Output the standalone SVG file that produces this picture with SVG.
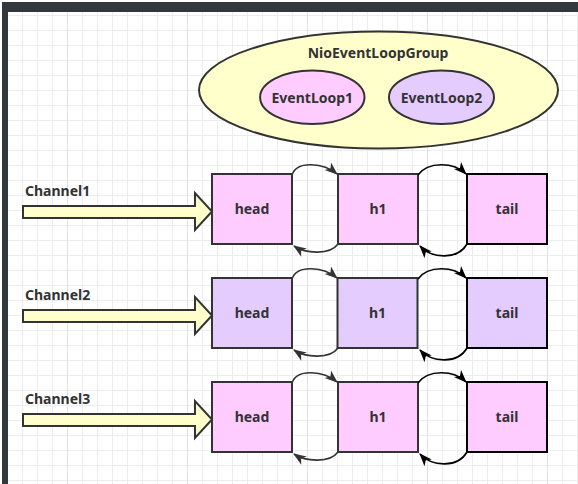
<svg xmlns="http://www.w3.org/2000/svg" width="578" height="484" viewBox="0 0 578 484">
<defs>
<pattern id="grid" patternUnits="userSpaceOnUse" x="7" y="0" width="15" height="15">
<rect x="0" y="0" width="1" height="15" fill="#ededed"/>
<rect x="0" y="0" width="15" height="1" fill="#ededed"/>
</pattern>
<marker id="ah1" markerUnits="userSpaceOnUse" viewBox="0 0 13 10" markerWidth="13" markerHeight="10" refX="12" refY="5" orient="auto" overflow="visible">
<path d="M0,0 L13,5 L0,10 L3.5,5 Z" fill="#333333"/>
</marker>
<marker id="ah2" markerUnits="userSpaceOnUse" viewBox="0 0 13 10" markerWidth="13" markerHeight="10" refX="12" refY="5" orient="auto" overflow="visible">
<path d="M0,0 L13,5 L0,10 L3.5,5 Z" fill="#000000"/>
</marker>
</defs>
<style>
text{font-family:"Noto Sans","Liberation Sans",sans-serif;font-weight:bold;font-size:14px;fill:#333333}
.c{text-anchor:middle}
.box{stroke:#333333;stroke-width:2}
.tail{stroke:#000000;stroke-width:2}
.pink{fill:#ffccff}
.lav{fill:#e5ccff}
.yel{fill:#ffffcc;stroke:#333333;stroke-width:2}
.arcA{fill:none;stroke:#333333;stroke-width:1.6;marker-end:url(#ah1)}
.arcB{fill:none;stroke:#000000;stroke-width:1.6;marker-end:url(#ah2)}
.major{stroke:#e2e2e2;stroke-width:1}
</style>
<rect x="0" y="0" width="578" height="484" fill="#ffffff"/>
<rect x="8" y="12" width="570" height="472" fill="url(#grid)"/>
<g class="major">
<line x1="67.5" y1="12" x2="67.5" y2="484"/>
<line x1="187.5" y1="12" x2="187.5" y2="484"/>
<line x1="307.5" y1="12" x2="307.5" y2="484"/>
<line x1="427.5" y1="12" x2="427.5" y2="484"/>
<line x1="547.5" y1="12" x2="547.5" y2="484"/>
</g>
<rect x="2" y="2" width="576" height="10" fill="#33383c"/>
<rect x="2" y="2" width="6" height="482" fill="#33383c"/>

<g id="group">
<ellipse cx="378.5" cy="90" rx="179.5" ry="58.5" class="yel"/>
<text x="378" y="57.5" class="c">NioEventLoopGroup</text>
</g>
<g id="eventloop1">
<ellipse cx="312.3" cy="97.3" rx="52.2" ry="26.7" class="pink box"/>
<text x="312.3" y="102.5" class="c">EventLoop1</text>
</g>
<g id="eventloop2">
<ellipse cx="441.5" cy="97.3" rx="52.5" ry="26.7" class="lav box"/>
<text x="441.5" y="102.5" class="c">EventLoop2</text>
</g>

<g id="channel1">
<path d="M23,206 L195,206 L195,193 L212,211.5 L195,230 L195,218 L23,218 Z" class="yel"/>
<text x="25" y="196">Channel1</text>
</g>
<g id="channel2">
<path d="M23,310 L195,310 L195,297 L212,315.5 L195,334 L195,322 L23,322 Z" class="yel"/>
<text x="25" y="300">Channel2</text>
</g>
<g id="channel3">
<path d="M23,414 L195,414 L195,401 L212,419.5 L195,438 L195,426 L23,426 Z" class="yel"/>
<text x="25" y="404">Channel3</text>
</g>

<g id="row1-head"><rect x="212" y="174" width="80" height="70" class="pink box"/><text x="252" y="214" class="c">head</text></g>
<g id="row1-h1"><rect x="338" y="174" width="80" height="70" class="pink box"/><text x="378" y="214" class="c">h1</text></g>
<g id="row1-tail"><rect x="467" y="174" width="80" height="70" class="pink tail"/><text x="507" y="214" class="c">tail</text></g>

<g id="row2-head"><rect x="212" y="278" width="80" height="70" class="lav box"/><text x="252" y="318" class="c">head</text></g>
<g id="row2-h1"><rect x="337.5" y="278" width="80" height="70" class="lav box"/><text x="377.5" y="318" class="c">h1</text></g>
<g id="row2-tail"><rect x="467" y="278" width="80" height="70" class="lav tail"/><text x="507" y="318" class="c">tail</text></g>

<g id="row3-head"><rect x="212" y="382" width="80" height="70" class="pink box"/><text x="252" y="422" class="c">head</text></g>
<g id="row3-h1"><rect x="338" y="382" width="80" height="70" class="pink box"/><text x="378" y="422" class="c">h1</text></g>
<g id="row3-tail"><rect x="467" y="382" width="80" height="70" class="pink tail"/><text x="507" y="422" class="c">tail</text></g>

<g id="connectors">
<path d="M292,175 C297,160 324,163 337,174" class="arcA"/>
<path d="M338,244 C330,255 306,254 294,246" class="arcA"/>
<path d="M418,175 C428,161 454,162 466,174" class="arcB"/>
<path d="M467,244 C458,260 432,259 420,246" class="arcB"/>

<path d="M292,279 C297,264 324,267 337,278" class="arcA"/>
<path d="M338,348 C330,359 306,358 294,350" class="arcA"/>
<path d="M418,279 C428,265 454,266 466,278" class="arcB"/>
<path d="M467,348 C458,364 432,363 420,350" class="arcB"/>

<path d="M292,383 C297,368 324,371 337,382" class="arcA"/>
<path d="M338,452 C330,463 306,462 294,454" class="arcA"/>
<path d="M418,383 C428,369 454,370 466,382" class="arcB"/>
<path d="M467,452 C458,468 432,467 420,454" class="arcB"/>
</g>
</svg>
